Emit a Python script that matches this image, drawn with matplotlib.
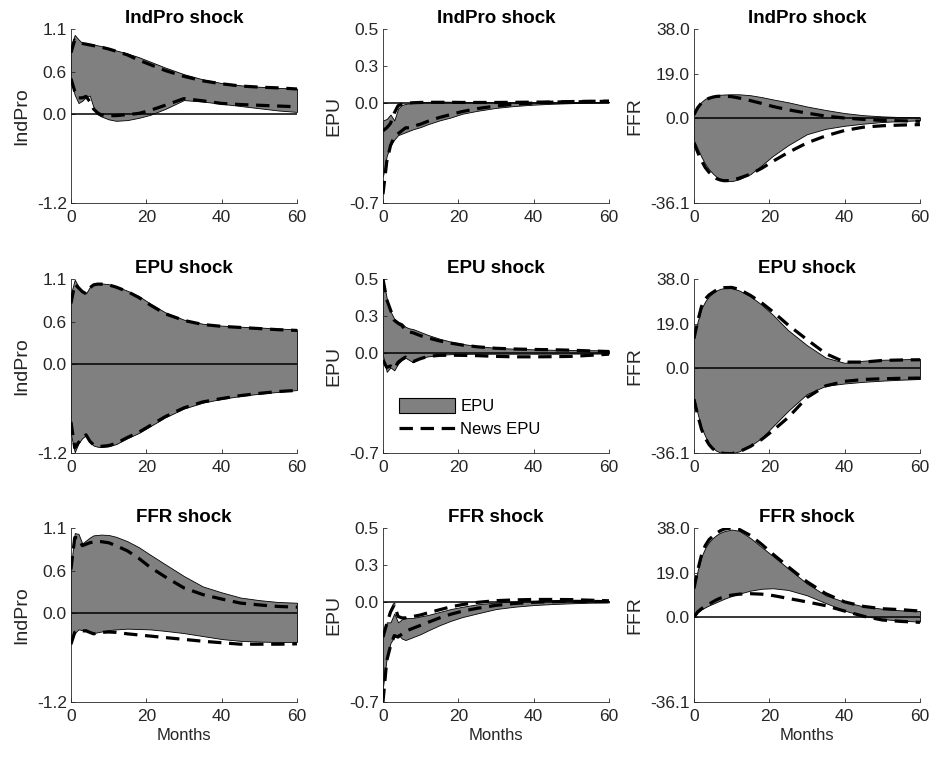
import matplotlib
matplotlib.use("Agg")
import matplotlib.pyplot as plt
from matplotlib.patches import Patch
from matplotlib.lines import Line2D

plt.rcParams['font.family'] = ['Liberation Sans', 'DejaVu Sans']

# Horizon (months) at which the impulse responses are recorded
months = [0, 1, 2, 3, 4, 5, 6, 7, 8, 10, 12, 15, 18, 21, 25, 30, 35, 40, 45, 50, 55, 60]

shock_names = ['IndPro shock', 'EPU shock', 'FFR shock']
var_names = ['IndPro', 'EPU', 'FFR']

# ---- IndPro shock ----
ip_ip_epu_hi = [0.93, 1.07, 1.01, 0.96, 0.955, 0.95, 0.94, 0.93, 0.92, 0.89, 0.86, 0.82, 0.77, 0.71, 0.63, 0.54, 0.47, 0.42, 0.39, 0.37, 0.355, 0.345]
ip_ip_epu_lo = [0.45, 0.26, 0.15, 0.18, 0.23, 0.25, 0.09, 0.0, -0.03, -0.07, -0.09, -0.08, -0.05, -0.01, 0.07, 0.19, 0.17, 0.14, 0.11, 0.08, 0.05, 0.03]
ip_ip_news_hi = [0.83, 1.00, 0.97, 0.955, 0.945, 0.935, 0.925, 0.915, 0.905, 0.88, 0.85, 0.80, 0.73, 0.67, 0.59, 0.51, 0.45, 0.41, 0.38, 0.365, 0.355, 0.34]
ip_ip_news_lo = [0.48, 0.31, 0.22, 0.22, 0.24, 0.17, 0.07, 0.02, -0.01, -0.02, -0.02, -0.005, 0.01, 0.05, 0.12, 0.21, 0.18, 0.145, 0.13, 0.12, 0.11, 0.10]

ip_epu_epu_hi = [-0.12, -0.11, -0.08, -0.12, -0.04, -0.015, -0.008, -0.004, -0.002, 0.003, 0.006, 0.008, 0.007, 0.006, 0.005, 0.004, 0.003, 0.003, 0.003, 0.004, 0.005, 0.006]
ip_epu_epu_lo = [-0.50, -0.36, -0.29, -0.25, -0.22, -0.21, -0.20, -0.19, -0.18, -0.165, -0.145, -0.12, -0.10, -0.075, -0.055, -0.035, -0.022, -0.013, -0.007, -0.003, 0.0, 0.002]
ip_epu_news_hi = [-0.19, -0.17, -0.14, -0.07, -0.02, -0.01, -0.005, -0.002, 0.0, 0.002, 0.003, 0.003, 0.003, 0.002, 0.002, 0.002, 0.003, 0.004, 0.005, 0.006, 0.008, 0.01]
ip_epu_news_lo = [-0.62, -0.40, -0.29, -0.23, -0.21, -0.19, -0.17, -0.17, -0.16, -0.145, -0.125, -0.10, -0.08, -0.06, -0.04, -0.022, -0.01, -0.002, 0.004, 0.008, 0.01, 0.01]

ip_ffr_epu_hi = [2.5, 5.0, 7.0, 8.3, 9.0, 9.5, 9.8, 10.0, 10.1, 10.2, 10.2, 9.8, 9.0, 8.0, 6.8, 5.0, 3.5, 2.2, 1.3, 0.8, 0.5, 0.4]
ip_ffr_epu_lo = [-9.5, -13.0, -16.5, -19.5, -21.8, -23.5, -25.0, -26.0, -26.6, -26.8, -26.0, -23.8, -20.0, -16.0, -11.5, -6.8, -4.5, -3.2, -2.3, -1.6, -1.2, -0.9]
ip_ffr_news_hi = [1.5, 4.5, 6.5, 7.8, 8.5, 9.0, 9.3, 9.4, 9.4, 9.2, 8.6, 7.5, 6.3, 5.0, 3.6, 2.2, 0.9, 0.1, -0.5, -0.9, -1.1, -1.3]
ip_ffr_news_lo = [-10.5, -14.5, -18.0, -21.0, -23.0, -24.5, -25.7, -26.3, -26.6, -26.5, -25.5, -23.8, -21.3, -18.3, -14.6, -10.5, -7.5, -5.2, -3.8, -3.2, -2.9, -2.7]

# ---- EPU shock ----
epu_ip_epu_hi = [0.95, 1.14, 1.05, 0.99, 0.955, 1.04, 1.08, 1.09, 1.09, 1.08, 1.05, 0.99, 0.92, 0.82, 0.70, 0.60, 0.545, 0.52, 0.505, 0.495, 0.48, 0.47]
epu_ip_epu_lo = [-0.95, -1.19, -1.07, -1.0, -0.96, -1.05, -1.10, -1.115, -1.12, -1.11, -1.08, -1.0, -0.93, -0.84, -0.72, -0.60, -0.52, -0.47, -0.43, -0.40, -0.375, -0.35]
epu_ip_news_hi = [0.82, 1.08, 1.03, 0.98, 0.95, 1.03, 1.07, 1.08, 1.08, 1.07, 1.04, 0.98, 0.90, 0.80, 0.68, 0.59, 0.535, 0.51, 0.495, 0.48, 0.465, 0.455]
epu_ip_news_lo = [-0.78, -1.13, -1.06, -0.99, -0.955, -1.04, -1.09, -1.105, -1.11, -1.10, -1.07, -0.99, -0.92, -0.83, -0.71, -0.59, -0.51, -0.465, -0.425, -0.395, -0.37, -0.355]

epu_epu_epu_hi = [0.50, 0.37, 0.28, 0.23, 0.21, 0.20, 0.175, 0.165, 0.16, 0.14, 0.12, 0.095, 0.075, 0.06, 0.045, 0.033, 0.027, 0.023, 0.02, 0.018, 0.017, 0.016]
epu_epu_epu_lo = [-0.02, -0.13, -0.10, -0.12, -0.075, -0.05, -0.035, -0.05, -0.065, -0.035, -0.025, -0.015, -0.01, -0.008, -0.007, -0.007, -0.007, -0.007, -0.007, -0.006, -0.006, -0.006]
epu_epu_news_hi = [0.50, 0.36, 0.29, 0.22, 0.20, 0.185, 0.15, 0.14, 0.135, 0.115, 0.10, 0.08, 0.065, 0.052, 0.04, 0.03, 0.025, 0.022, 0.02, 0.017, 0.012, 0.008]
epu_epu_news_lo = [-0.05, -0.10, -0.09, -0.11, -0.065, -0.045, -0.03, -0.045, -0.06, -0.04, -0.025, -0.018, -0.017, -0.018, -0.02, -0.025, -0.028, -0.028, -0.027, -0.025, -0.018, -0.01]

epu_ffr_epu_hi = [13.3, 20.0, 25.5, 28.5, 30.6, 32.0, 33.1, 33.8, 34.1, 34.1, 33.1, 30.6, 27.0, 22.7, 16.2, 9.8, 4.5, 2.3, 3.2, 3.6, 3.8, 4.0]
epu_ffr_epu_lo = [-12.5, -19.5, -25.4, -29.0, -32.0, -34.0, -35.2, -35.9, -36.2, -36.3, -35.4, -33.0, -29.7, -24.7, -18.2, -11.0, -7.5, -6.5, -5.8, -5.3, -4.9, -4.6]
epu_ffr_news_hi = [12.6, 20.0, 26.3, 29.5, 31.2, 32.3, 33.3, 33.9, 34.3, 34.4, 33.6, 31.0, 27.8, 24.0, 18.4, 12.2, 6.2, 2.6, 2.6, 3.3, 3.5, 3.6]
epu_ffr_news_lo = [-13.2, -20.0, -26.0, -29.8, -32.5, -34.3, -35.4, -36.0, -36.3, -36.4, -35.6, -33.3, -30.3, -26.5, -21.0, -12.5, -7.5, -5.6, -4.8, -4.5, -4.3, -4.2]

# ---- FFR shock ----
ffr_ip_epu_hi = [0.63, 1.08, 1.07, 0.94, 0.98, 1.02, 1.05, 1.055, 1.06, 1.055, 1.03, 0.97, 0.89, 0.79, 0.66, 0.50, 0.36, 0.28, 0.21, 0.175, 0.15, 0.14]
ffr_ip_epu_lo = [-0.40, -0.27, -0.22, -0.23, -0.22, -0.25, -0.27, -0.26, -0.25, -0.23, -0.22, -0.21, -0.215, -0.22, -0.24, -0.27, -0.31, -0.35, -0.375, -0.385, -0.39, -0.39]
ffr_ip_news_hi = [0.59, 1.02, 1.02, 0.91, 0.93, 0.95, 0.96, 0.965, 0.965, 0.95, 0.91, 0.84, 0.74, 0.62, 0.49, 0.34, 0.25, 0.19, 0.135, 0.11, 0.09, 0.08]
ffr_ip_news_lo = [-0.42, -0.26, -0.23, -0.24, -0.24, -0.26, -0.28, -0.27, -0.26, -0.255, -0.26, -0.28, -0.295, -0.31, -0.33, -0.355, -0.38, -0.40, -0.42, -0.42, -0.42, -0.415]

ffr_epu_epu_hi = [-0.24, -0.14, -0.14, -0.08, -0.14, -0.12, -0.11, -0.11, -0.11, -0.10, -0.09, -0.07, -0.05, -0.035, -0.018, -0.006, 0.002, 0.005, 0.006, 0.006, 0.005, 0.005]
ffr_epu_epu_lo = [-0.58, -0.38, -0.28, -0.24, -0.22, -0.25, -0.26, -0.25, -0.24, -0.22, -0.195, -0.16, -0.13, -0.105, -0.08, -0.05, -0.034, -0.023, -0.016, -0.011, -0.007, -0.005]
ffr_epu_news_hi = [-0.24, -0.15, -0.07, -0.02, -0.10, -0.11, -0.11, -0.105, -0.10, -0.09, -0.075, -0.055, -0.035, -0.02, -0.005, 0.007, 0.012, 0.015, 0.015, 0.014, 0.01, 0.006]
ffr_epu_news_lo = [-0.68, -0.40, -0.30, -0.23, -0.24, -0.22, -0.20, -0.19, -0.18, -0.16, -0.14, -0.11, -0.085, -0.065, -0.045, -0.025, -0.012, -0.004, 0.0, 0.002, 0.002, 0.0]

ffr_ffr_epu_hi = [12.9, 20.0, 25.8, 29.5, 32.0, 33.7, 35.0, 36.0, 36.6, 37.3, 36.8, 33.7, 29.8, 26.0, 20.8, 14.3, 9.3, 6.5, 4.6, 3.6, 2.9, 2.6]
ffr_ffr_epu_lo = [0.0, 2.0, 3.3, 4.2, 5.0, 5.7, 6.4, 7.1, 7.8, 9.0, 10.0, 11.3, 12.1, 12.3, 11.6, 9.3, 6.0, 2.8, 0.5, -0.8, -1.5, -1.9]
ffr_ffr_news_hi = [12.2, 20.0, 26.5, 30.5, 33.0, 34.5, 35.8, 36.8, 37.5, 38.0, 37.4, 34.8, 31.0, 26.8, 21.5, 15.1, 10.0, 6.5, 4.6, 3.6, 3.2, 2.6]
ffr_ffr_news_lo = [0.0, 2.3, 3.6, 4.6, 5.6, 6.5, 7.4, 8.1, 8.7, 9.4, 9.8, 10.0, 9.8, 9.2, 8.0, 6.5, 4.9, 2.6, 0.4, -1.2, -1.8, -2.2]

# y-axis scaling per response variable: limits, tick positions and their labels
y_limits = [(-1.2, 1.15), (-0.68, 0.5), (-36.1, 38.0)]
y_ticks = [[-1.2, 0.0, 0.575, 1.15], [-0.68, 0.0, 0.25, 0.5], [-36.1, 0.0, 19.0, 38.0]]
y_ticklabels = [['-1.2', '0.0', '0.6', '1.1'], ['-0.7', '0.0', '0.3', '0.5'], ['-36.1', '0.0', '19.0', '38.0']]
x_ticks = [0, 20, 40, 60]

panels = [
    [(ip_ip_epu_lo, ip_ip_epu_hi, ip_ip_news_lo, ip_ip_news_hi),
     (ip_epu_epu_lo, ip_epu_epu_hi, ip_epu_news_lo, ip_epu_news_hi),
     (ip_ffr_epu_lo, ip_ffr_epu_hi, ip_ffr_news_lo, ip_ffr_news_hi)],
    [(epu_ip_epu_lo, epu_ip_epu_hi, epu_ip_news_lo, epu_ip_news_hi),
     (epu_epu_epu_lo, epu_epu_epu_hi, epu_epu_news_lo, epu_epu_news_hi),
     (epu_ffr_epu_lo, epu_ffr_epu_hi, epu_ffr_news_lo, epu_ffr_news_hi)],
    [(ffr_ip_epu_lo, ffr_ip_epu_hi, ffr_ip_news_lo, ffr_ip_news_hi),
     (ffr_epu_epu_lo, ffr_epu_epu_hi, ffr_epu_news_lo, ffr_epu_news_hi),
     (ffr_ffr_epu_lo, ffr_ffr_epu_hi, ffr_ffr_news_lo, ffr_ffr_news_hi)],
]

band_color = '#808080'
axis_color = '#262626'
dash_style = (0, (4.2, 2.4))

fig = plt.figure(figsize=(9.35, 7.57), dpi=100)
lefts = [0.0759, 0.4096, 0.7422]
bottoms = [0.7318, 0.4016, 0.0727]
width, height = 0.2417, 0.2299

for r in range(3):
    for c in range(3):
        ax = fig.add_axes([lefts[c], bottoms[r], width, height])
        lo, hi, nlo, nhi = panels[r][c]
        ax.fill_between(months, lo, hi, facecolor=band_color, edgecolor='black',
                        linewidth=0.6, zorder=1)
        ax.plot(months, nhi, color='black', linewidth=2.3, linestyle=dash_style, zorder=3)
        ax.plot(months, nlo, color='black', linewidth=2.3, linestyle=dash_style, zorder=3)
        ax.axhline(0.0, color='black', linewidth=1.1, zorder=2)

        ax.set_xlim(0, 60)
        ax.set_ylim(*y_limits[c])
        ax.set_xticks(x_ticks)
        ax.set_yticks(y_ticks[c])
        ax.set_yticklabels(y_ticklabels[c])

        for side in ('top', 'right'):
            ax.spines[side].set_visible(False)
        for side in ('left', 'bottom'):
            ax.spines[side].set_color(axis_color)
            ax.spines[side].set_linewidth(0.6)
        ax.tick_params(direction='in', length=3, width=0.6, colors=axis_color,
                       labelsize=12.5)
        ax.tick_params(axis='x', pad=5)
        ax.tick_params(axis='y', pad=3)

        ax.set_title(shock_names[r], fontsize=13.5, fontweight='bold', pad=4)
        ax.set_ylabel(var_names[c], fontsize=14, color=axis_color, labelpad=5)
        if r == 2:
            ax.set_xlabel('Months', fontsize=12, color=axis_color, labelpad=3)

        if r == 1 and c == 1:
            handles = [Patch(facecolor=band_color, edgecolor='black', linewidth=0.8),
                       Line2D([0], [0], color='black', linewidth=2.3, linestyle=dash_style)]
            ax.legend(handles, ['EPU', 'News EPU'], loc='upper left',
                      bbox_to_anchor=(0.07, 0.318), frameon=False, fontsize=12,
                      handlelength=3.4, handleheight=1.0, handletextpad=0.3,
                      labelspacing=0.45, borderpad=0.0, borderaxespad=0.0)

fig.savefig('out.png', dpi=100)
